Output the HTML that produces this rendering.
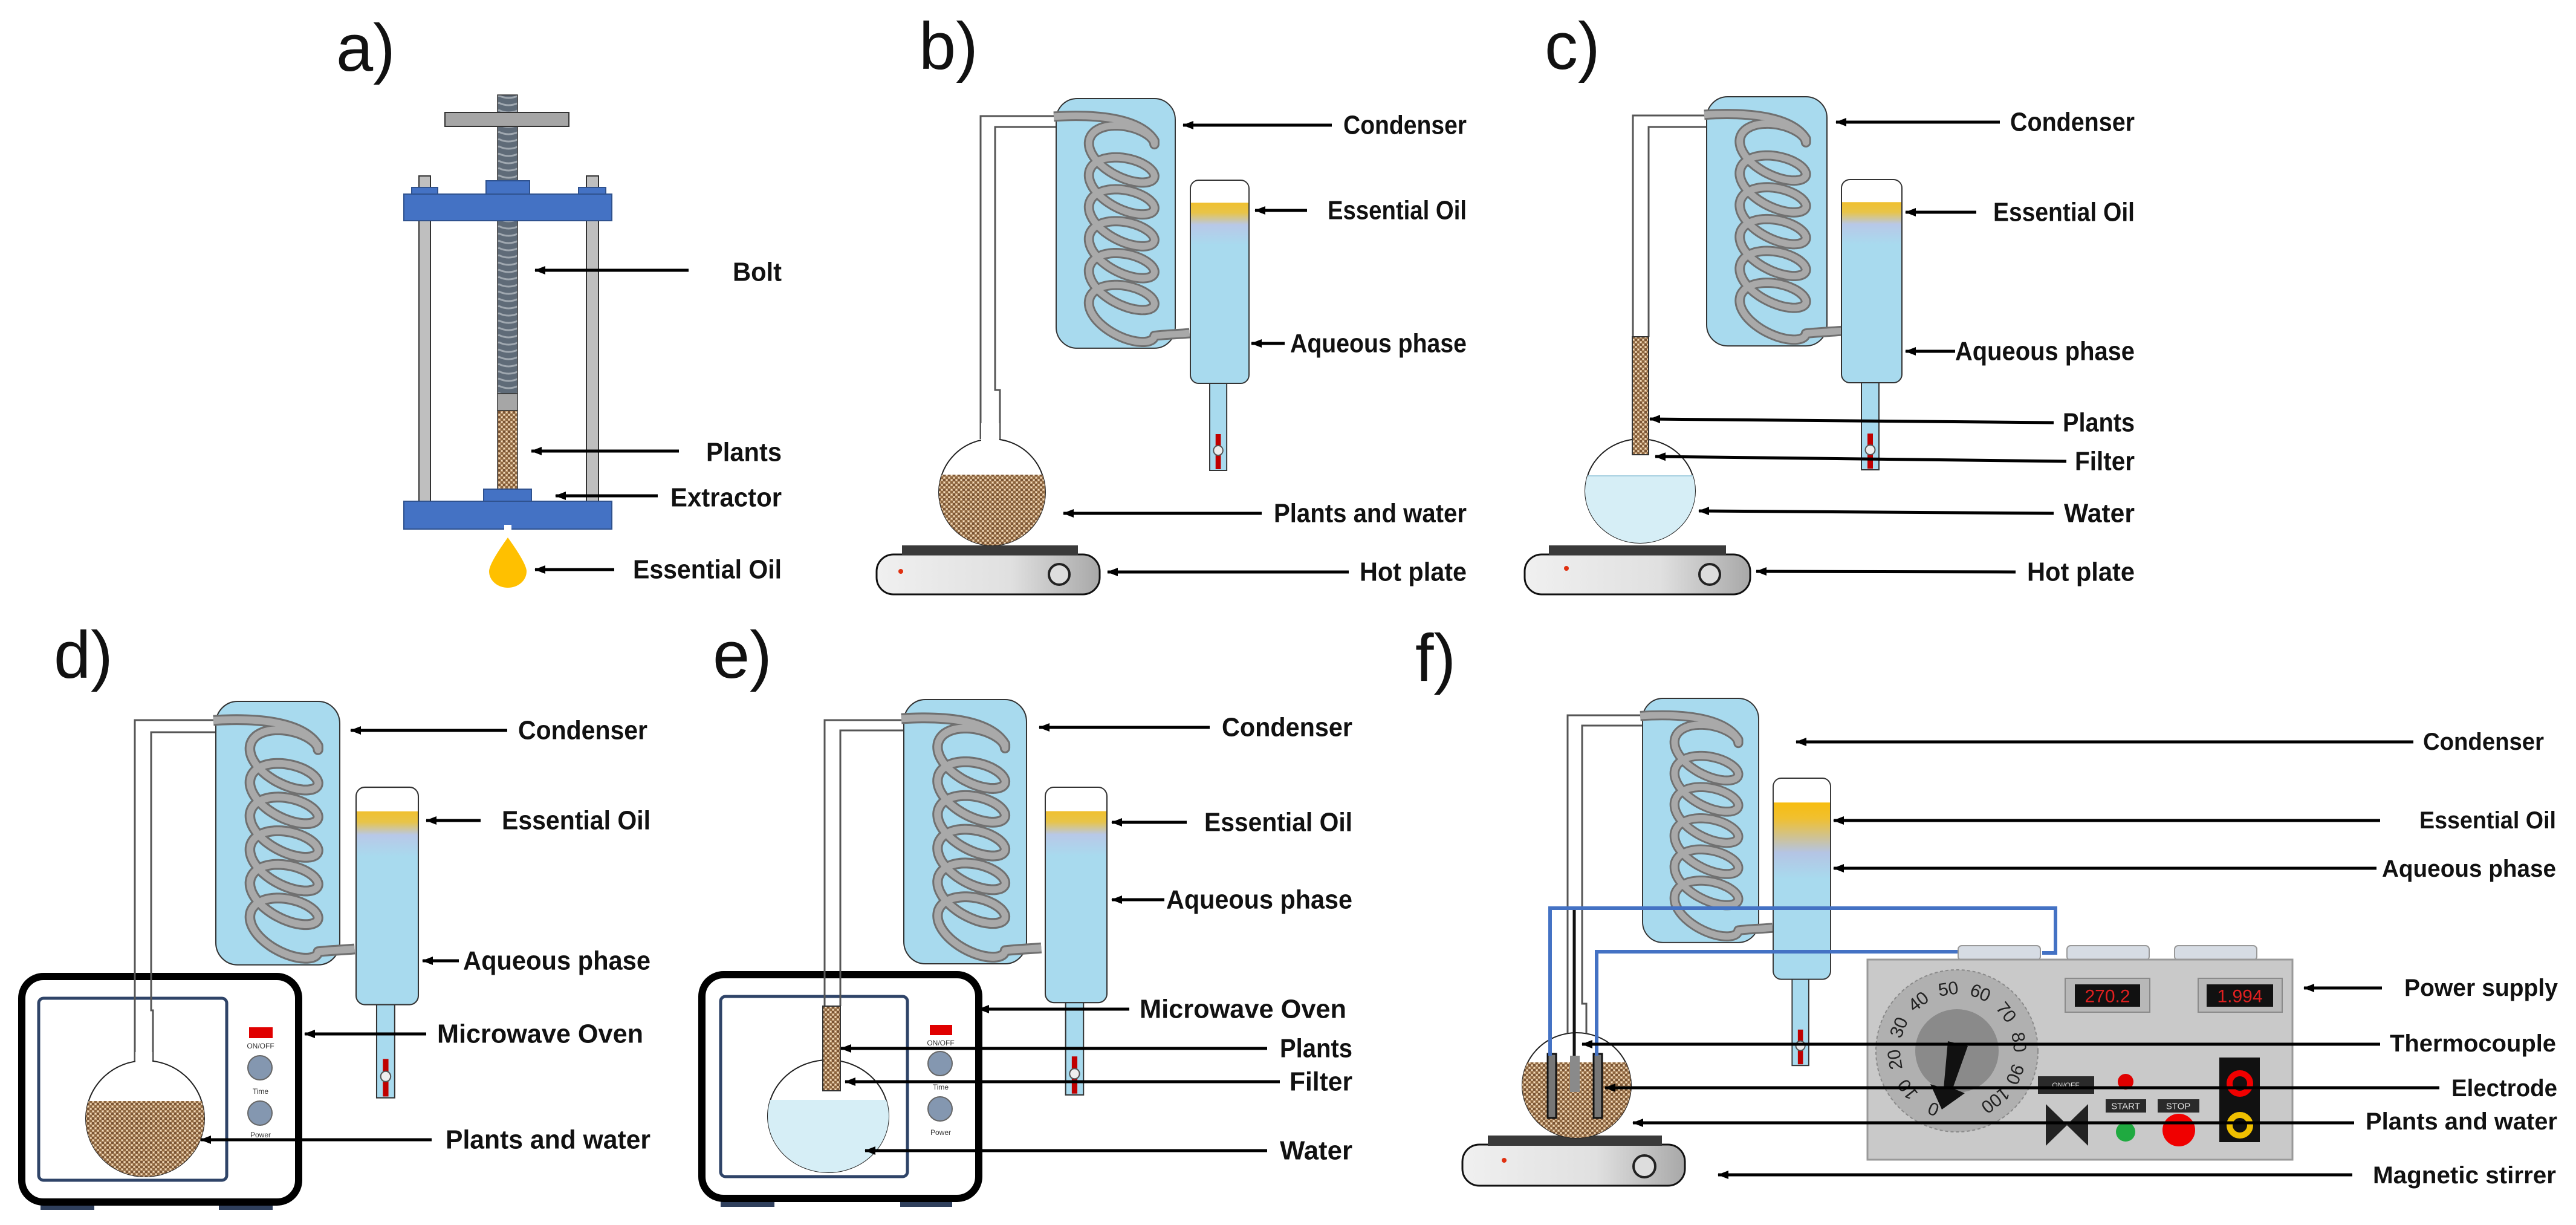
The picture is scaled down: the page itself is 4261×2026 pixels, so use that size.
<!DOCTYPE html>
<html><head><meta charset="utf-8">
<style>
html,body{margin:0;padding:0;background:#fff;}
svg{display:block;}
.lb{font-family:"Liberation Sans",sans-serif;font-weight:bold;font-size:44px;fill:#111;dominant-baseline:central;}
.lf{font-family:"Liberation Sans",sans-serif;font-weight:bold;font-size:40px;fill:#111;dominant-baseline:central;}
.pn{font-family:"Liberation Sans",sans-serif;font-size:110px;fill:#111;}
.ar{stroke:#000;stroke-width:5;fill:none;}
.sm{font-family:"Liberation Sans",sans-serif;font-size:12px;fill:#333;}
</style></head>
<body>
<svg width="4261" height="2026" viewBox="0 0 4261 2026" xmlns="http://www.w3.org/2000/svg">
<defs>
 <marker id="ah" markerUnits="userSpaceOnUse" markerWidth="18" markerHeight="16" refX="1" refY="8" orient="auto">
  <path d="M18,1 L0,8 L18,15 Z" fill="#000"/>
 </marker>
 <pattern id="pl" width="8" height="8" patternUnits="userSpaceOnUse">
  <rect width="8" height="8" fill="#c9a47c"/>
  <rect x="0" y="0" width="4" height="4" fill="#7a5535"/>
  <rect x="4" y="4" width="4" height="4" fill="#8c6640"/>
  <rect x="5" y="1" width="2" height="2" fill="#eedcc0"/>
  <rect x="1" y="5" width="2" height="2" fill="#eedcc0"/>
 </pattern>
 <pattern id="thr" width="33" height="12" patternUnits="userSpaceOnUse">
  <rect width="33" height="12" fill="#5f6b78"/>
  <path d="M0,2 Q16,10 33,2" stroke="#a0a8b0" stroke-width="3" fill="none"/>
 </pattern>
 <linearGradient id="rg" x1="0" y1="0" x2="0" y2="1">
  <stop offset="0" stop-color="#fff"/><stop offset="0.11" stop-color="#fff"/>
  <stop offset="0.112" stop-color="#f0c030"/><stop offset="0.16" stop-color="#e8c448"/>
  <stop offset="0.22" stop-color="#b8c8e8"/><stop offset="0.32" stop-color="#a8daee"/>
  <stop offset="1" stop-color="#a8daee"/>
 </linearGradient>
 <linearGradient id="rgf" x1="0" y1="0" x2="0" y2="1">
  <stop offset="0" stop-color="#fff"/><stop offset="0.12" stop-color="#fff"/>
  <stop offset="0.122" stop-color="#f7bd10"/><stop offset="0.2" stop-color="#f0c030"/>
  <stop offset="0.37" stop-color="#b4c4e4"/><stop offset="0.5" stop-color="#a8daee"/>
  <stop offset="1" stop-color="#a8daee"/>
 </linearGradient>
 <linearGradient id="hp" x1="0" y1="0" x2="1" y2="0">
  <stop offset="0" stop-color="#f0f0f0"/><stop offset="0.6" stop-color="#e0e0e0"/><stop offset="1" stop-color="#a8a8a8"/>
 </linearGradient>
 <g id="rcv">
  <rect x="33" y="330" width="29" height="150" fill="#a8daee" stroke="#333" stroke-width="2"/>
  <rect x="43" y="420" width="9" height="58" fill="#c00000"/>
  <circle cx="47.5" cy="447" r="8" fill="#eee" stroke="#555" stroke-width="2"/>
  <rect x="0" y="0" width="100" height="336" rx="14" fill="url(#rg)" stroke="#333" stroke-width="2"/>
 </g>
 <g id="cond">
  <rect x="0" y="0" width="200" height="415" rx="35" fill="#a8daee" stroke="#333" stroke-width="2"/>
  <path class="coil" d="" fill="none" stroke="#707070" stroke-width="17" stroke-linejoin="round"/>
  <path class="coil" d="" fill="none" stroke="#a9a9a9" stroke-width="11" stroke-linejoin="round"/>
 </g>
 <clipPath id="cb"><ellipse cx="1641" cy="814" rx="88" ry="88"/></clipPath>
 <clipPath id="cc"><ellipse cx="2713" cy="812" rx="91" ry="86"/></clipPath>
 <clipPath id="cd"><ellipse cx="240" cy="1850" rx="98" ry="96"/></clipPath>
 <clipPath id="ce"><ellipse cx="1370" cy="1846" rx="100" ry="93"/></clipPath>
 <clipPath id="cf"><ellipse cx="2608" cy="1795" rx="90" ry="87"/></clipPath>
</defs>

<text class="pn" x="556" y="117">a)</text>
<text class="pn" x="1520" y="114">b)</text>
<text class="pn" x="2555" y="114">c)</text>
<text class="pn" x="89" y="1121">d)</text>
<text class="pn" x="1179" y="1121">e)</text>
<text class="pn" x="2341" y="1126">f)</text>

<!-- a -->
<rect x="823" y="157" width="33" height="494" fill="url(#thr)" stroke="#333" stroke-width="1.5"/>
<rect x="736" y="186" width="205" height="23" fill="#a6a6a6" stroke="#333" stroke-width="2"/>
<rect x="693" y="291" width="19" height="538" fill="#bfbfbf" stroke="#333" stroke-width="2"/>
<rect x="970" y="291" width="20" height="538" fill="#bfbfbf" stroke="#333" stroke-width="2"/>
<rect x="681" y="310" width="43" height="12" fill="#4472c4" stroke="#2f528f" stroke-width="2"/>
<rect x="957" y="310" width="45" height="12" fill="#4472c4" stroke="#2f528f" stroke-width="2"/>
<rect x="804" y="299" width="72" height="23" fill="#4472c4" stroke="#2f528f" stroke-width="2"/>
<rect x="668" y="321" width="344" height="44" fill="#4472c4" stroke="#2f528f" stroke-width="2"/>
<rect x="823" y="651" width="33" height="28" fill="#a6a6a6" stroke="#333" stroke-width="1.5"/>
<rect x="823" y="679" width="33" height="130" fill="url(#pl)" stroke="#333" stroke-width="1.5"/>
<rect x="800" y="809" width="79" height="21" fill="#4472c4" stroke="#2f528f" stroke-width="2"/>
<rect x="668" y="829" width="344" height="46" fill="#4472c4" stroke="#2f528f" stroke-width="2"/>
<rect x="834" y="868" width="12" height="8" fill="#fff"/>
<path d="M840,889 Q809,932 809,945 A31,27 0 0 0 871,945 Q871,932 840,889Z" fill="#ffc000"/>
<path class="ar" d="M885,447 H1139" marker-start="url(#ah)"/>
<path class="ar" d="M879,746 H1123" marker-start="url(#ah)"/>
<path class="ar" d="M919,820 H1088" marker-start="url(#ah)"/>
<path class="ar" d="M885,942 H1016" marker-start="url(#ah)"/>
<text class="lb" x="1212" y="450" textLength="81" lengthAdjust="spacingAndGlyphs">Bolt</text>
<text class="lb" x="1168" y="748" textLength="125" lengthAdjust="spacingAndGlyphs">Plants</text>
<text class="lb" x="1109" y="823" textLength="184" lengthAdjust="spacingAndGlyphs">Extractor</text>
<text class="lb" x="1047" y="942" textLength="246" lengthAdjust="spacingAndGlyphs">Essential Oil</text>

<!-- b -->
<path d="M1747,192 H1622 V726 M1747,210 H1646 V645 H1654 V726" fill="none" stroke="#555" stroke-width="3"/>
<rect x="1450" y="917" width="369" height="66" rx="28" fill="url(#hp)" stroke="#111" stroke-width="3"/>
<rect x="1492" y="902" width="291" height="16" fill="#3a3a3a"/>
<circle cx="1490" cy="945" r="4" fill="#e03010"/>
<circle cx="1752" cy="950" r="17" fill="#ddd" stroke="#222" stroke-width="4"/>
<ellipse cx="1641" cy="814" rx="88" ry="88" fill="#fff" stroke="#222" stroke-width="2"/>
<rect x="1540" y="785" width="200" height="130" fill="url(#pl)" clip-path="url(#cb)"/>
<rect x="1623" y="700" width="30" height="30" fill="#fff"/>
<use href="#cond" transform="translate(1747,163) scale(0.985,0.995)"/>
<use href="#rcv" transform="translate(1969,298) scale(0.97,1)"/>
<path class="ar" d="M1957,207 H2203" marker-start="url(#ah)"/>
<path class="ar" d="M2076,348 H2162" marker-start="url(#ah)"/>
<path class="ar" d="M2070,568 H2125" marker-start="url(#ah)"/>
<path class="ar" d="M1759,849 H2087" marker-start="url(#ah)"/>
<path class="ar" d="M1832,946 H2231" marker-start="url(#ah)"/>
<text class="lb" x="2222" y="207" textLength="204" lengthAdjust="spacingAndGlyphs">Condenser</text>
<text class="lb" x="2196" y="348" textLength="230" lengthAdjust="spacingAndGlyphs">Essential Oil</text>
<text class="lb" x="2134" y="568" textLength="292" lengthAdjust="spacingAndGlyphs">Aqueous phase</text>
<text class="lb" x="2107" y="849" textLength="319" lengthAdjust="spacingAndGlyphs">Plants and water</text>
<text class="lb" x="2249" y="946" textLength="177" lengthAdjust="spacingAndGlyphs">Hot plate</text>

<!-- c -->
<path d="M2823,191 H2701 V557 M2823,210 H2727 V557" fill="none" stroke="#555" stroke-width="3"/>
<rect x="2522" y="917" width="373" height="66" rx="28" fill="url(#hp)" stroke="#111" stroke-width="3"/>
<rect x="2562" y="902" width="293" height="16" fill="#3a3a3a"/>
<circle cx="2591" cy="940" r="4" fill="#e03010"/>
<circle cx="2828" cy="950" r="17" fill="#ddd" stroke="#222" stroke-width="4"/>
<ellipse cx="2713" cy="812" rx="91" ry="86" fill="#fff" stroke="#222" stroke-width="2"/>
<rect x="2610" y="787" width="200" height="120" fill="#d6eef6" clip-path="url(#cc)"/>
<line x1="2622" y1="787" x2="2804" y2="787" stroke="#a8d0e0" stroke-width="2" clip-path="url(#cc)"/>
<rect x="2700" y="557" width="27" height="195" fill="url(#pl)" stroke="#333" stroke-width="2"/>
<use href="#cond" transform="translate(2823,160) scale(0.995,0.993)"/>
<use href="#rcv" transform="translate(3046,297)"/>
<path class="ar" d="M3037,202 H3308" marker-start="url(#ah)"/>
<path class="ar" d="M3152,351 H3269" marker-start="url(#ah)"/>
<path class="ar" d="M3152,581 H3234" marker-start="url(#ah)"/>
<path class="ar" d="M2729,693 L3397,699" marker-start="url(#ah)"/>
<path class="ar" d="M2738,755 L3418,763" marker-start="url(#ah)"/>
<path class="ar" d="M2810,845 L3397,849" marker-start="url(#ah)"/>
<path class="ar" d="M2905,945 L3334,946" marker-start="url(#ah)"/>
<text class="lb" x="3325" y="202" textLength="206" lengthAdjust="spacingAndGlyphs">Condenser</text>
<text class="lb" x="3297" y="351" textLength="234" lengthAdjust="spacingAndGlyphs">Essential Oil</text>
<text class="lb" x="3234" y="581" textLength="297" lengthAdjust="spacingAndGlyphs">Aqueous phase</text>
<text class="lb" x="3412" y="699" textLength="119" lengthAdjust="spacingAndGlyphs">Plants</text>
<text class="lb" x="3432" y="763" textLength="99" lengthAdjust="spacingAndGlyphs">Filter</text>
<text class="lb" x="3414" y="849" textLength="117" lengthAdjust="spacingAndGlyphs">Water</text>
<text class="lb" x="3353" y="946" textLength="178" lengthAdjust="spacingAndGlyphs">Hot plate</text>

<!-- d -->
<rect x="67" y="1985" width="89" height="16" fill="#2f3f5c"/>
<rect x="362" y="1985" width="89" height="16" fill="#2f3f5c"/>
<rect x="36" y="1615" width="458" height="373" rx="36" fill="#fff" stroke="#000" stroke-width="12"/>
<rect x="64" y="1651" width="311" height="301" rx="8" fill="#fff" stroke="#2f4468" stroke-width="5"/>
<path d="M357,1191 H223 V1759 M357,1211 H250 V1671 H253 V1759" fill="none" stroke="#555" stroke-width="3"/>
<ellipse cx="240" cy="1850" rx="98" ry="96" fill="#fff" stroke="#222" stroke-width="2"/>
<rect x="130" y="1821" width="220" height="130" fill="url(#pl)" clip-path="url(#cd)"/>
<rect x="224" y="1740" width="28" height="22" fill="#fff"/>
<rect x="412" y="1699" width="39" height="18" fill="#e00000"/>
<text class="sm" x="431" y="1734" text-anchor="middle">ON/OFF</text>
<circle cx="430" cy="1766" r="20" fill="#8497b0" stroke="#666" stroke-width="2"/>
<text class="sm" x="431" y="1809" text-anchor="middle">Time</text>
<circle cx="430" cy="1841" r="20" fill="#8497b0" stroke="#666" stroke-width="2"/>
<text class="sm" x="431" y="1881" text-anchor="middle">Power</text>
<use href="#cond" transform="translate(357,1160) scale(1.025,1.05)"/>
<use href="#rcv" transform="translate(589,1302) scale(1.03,1.07)"/>
<path class="ar" d="M580,1208 H839" marker-start="url(#ah)"/>
<path class="ar" d="M705,1357 H795" marker-start="url(#ah)"/>
<path class="ar" d="M699,1589 H759" marker-start="url(#ah)"/>
<path class="ar" d="M504,1710 H705" marker-start="url(#ah)"/>
<path class="ar" d="M332,1885 H714" marker-start="url(#ah)"/>
<text class="lb" x="857" y="1208" textLength="214" lengthAdjust="spacingAndGlyphs">Condenser</text>
<text class="lb" x="830" y="1357" textLength="246" lengthAdjust="spacingAndGlyphs">Essential Oil</text>
<text class="lb" x="766" y="1589" textLength="310" lengthAdjust="spacingAndGlyphs">Aqueous phase</text>
<text class="lb" x="723" y="1710" textLength="341" lengthAdjust="spacingAndGlyphs">Microwave Oven</text>
<text class="lb" x="737" y="1885" textLength="339" lengthAdjust="spacingAndGlyphs">Plants and water</text>

<!-- e -->
<rect x="1192" y="1980" width="89" height="16" fill="#2f3f5c"/>
<rect x="1489" y="1980" width="86" height="16" fill="#2f3f5c"/>
<rect x="1161" y="1612" width="458" height="370" rx="36" fill="#fff" stroke="#000" stroke-width="12"/>
<rect x="1192" y="1648" width="309" height="298" rx="8" fill="#fff" stroke="#2f4468" stroke-width="5"/>
<path d="M1495,1191 H1364 V1664 M1495,1208 H1390 V1664" fill="none" stroke="#555" stroke-width="3"/>
<ellipse cx="1370" cy="1846" rx="100" ry="93" fill="#fff" stroke="#222" stroke-width="2"/>
<rect x="1260" y="1819" width="220" height="130" fill="#d6eef6" clip-path="url(#ce)"/>
<rect x="1361" y="1664" width="29" height="140" fill="url(#pl)" stroke="#333" stroke-width="2"/>
<rect x="1538" y="1695" width="37" height="17" fill="#e00000"/>
<text class="sm" x="1556" y="1729" text-anchor="middle">ON/OFF</text>
<circle cx="1555" cy="1759" r="20" fill="#8497b0" stroke="#666" stroke-width="2"/>
<text class="sm" x="1556" y="1802" text-anchor="middle">Time</text>
<circle cx="1555" cy="1834" r="20" fill="#8497b0" stroke="#666" stroke-width="2"/>
<text class="sm" x="1556" y="1877" text-anchor="middle">Power</text>
<use href="#cond" transform="translate(1495,1157) scale(1.015,1.053)"/>
<use href="#rcv" transform="translate(1729,1302) scale(1.02,1.06)"/>
<path class="ar" d="M1719,1203 H2001" marker-start="url(#ah)"/>
<path class="ar" d="M1839,1360 H1963" marker-start="url(#ah)"/>
<path class="ar" d="M1839,1488 H1926" marker-start="url(#ah)"/>
<path class="ar" d="M1619,1669 H1868" marker-start="url(#ah)"/>
<path class="ar" d="M1391,1734 H2096" marker-start="url(#ah)"/>
<path class="ar" d="M1398,1789 H2117" marker-start="url(#ah)"/>
<path class="ar" d="M1431,1903 H2096" marker-start="url(#ah)"/>
<text class="lb" x="2021" y="1203" textLength="216" lengthAdjust="spacingAndGlyphs">Condenser</text>
<text class="lb" x="1992" y="1360" textLength="245" lengthAdjust="spacingAndGlyphs">Essential Oil</text>
<text class="lb" x="1929" y="1488" textLength="308" lengthAdjust="spacingAndGlyphs">Aqueous phase</text>
<text class="lb" x="1885" y="1669" textLength="342" lengthAdjust="spacingAndGlyphs">Microwave Oven</text>
<text class="lb" x="2117" y="1734" textLength="120" lengthAdjust="spacingAndGlyphs">Plants</text>
<text class="lb" x="2133" y="1789" textLength="104" lengthAdjust="spacingAndGlyphs">Filter</text>
<text class="lb" x="2117" y="1903" textLength="120" lengthAdjust="spacingAndGlyphs">Water</text>

<!-- f -->
<path d="M2717,1183 H2593 V1708 M2717,1200 H2617 V1660 H2624 V1708" fill="none" stroke="#555" stroke-width="3"/>
<rect x="2419" y="1893" width="368" height="68" rx="28" fill="url(#hp)" stroke="#111" stroke-width="3"/>
<rect x="2461" y="1878" width="288" height="17" fill="#3a3a3a"/>
<circle cx="2488" cy="1919" r="4" fill="#e03010"/>
<circle cx="2720" cy="1929" r="18" fill="#ddd" stroke="#222" stroke-width="4"/>
<ellipse cx="2608" cy="1795" rx="90" ry="87" fill="#fff" stroke="#222" stroke-width="2"/>
<rect x="2510" y="1757" width="200" height="130" fill="url(#pl)" clip-path="url(#cf)"/>
<rect x="2560" y="1743" width="14" height="106" fill="#777" stroke="#111" stroke-width="3"/>
<rect x="2636" y="1743" width="14" height="106" fill="#777" stroke="#111" stroke-width="3"/>
<line x1="2604" y1="1502" x2="2604" y2="1746" stroke="#111" stroke-width="5"/>
<rect x="2597" y="1746" width="16" height="60" fill="#8a8a8a"/>
<use href="#cond" transform="translate(2717,1155) scale(0.96,0.973)"/>
<g transform="translate(2933,1287) scale(0.95,0.99)">
 <rect x="33" y="330" width="29" height="150" fill="#a8daee" stroke="#333" stroke-width="2"/>
 <rect x="43" y="420" width="9" height="58" fill="#c00000"/>
 <circle cx="47.5" cy="447" r="8" fill="#eee" stroke="#555" stroke-width="2"/>
 <rect x="0" y="0" width="100" height="336" rx="14" fill="url(#rgf)" stroke="#333" stroke-width="2"/>
</g>
<path d="M2564,1746 V1502 H3400 V1576 H3378" fill="none" stroke="#4472c4" stroke-width="6"/>
<path d="M2641,1746 V1574 H3239" fill="none" stroke="#4472c4" stroke-width="6"/>
<rect x="3239" y="1564" width="136" height="24" rx="6" fill="#d6dce4" stroke="#999" stroke-width="2"/>
<rect x="3419" y="1564" width="136" height="24" rx="6" fill="#d6dce4" stroke="#999" stroke-width="2"/>
<rect x="3597" y="1564" width="136" height="24" rx="6" fill="#d6dce4" stroke="#999" stroke-width="2"/>
<rect x="3089" y="1587" width="703" height="331" fill="#c9c9c9" stroke="#999" stroke-width="3"/>
<circle cx="3237" cy="1738" r="134" fill="#b0b0b0" stroke="#8a8a8a" stroke-width="2" stroke-dasharray="5,4"/>
<circle cx="3237" cy="1738" r="69" fill="#8a8a8a"/>
<g font-family="Liberation Sans, sans-serif" font-size="30" fill="#222" text-anchor="middle">
 <text transform="translate(3237,1738) rotate(-158) translate(0,-103)" dominant-baseline="central">0</text>
 <text transform="translate(3237,1738) rotate(-128) translate(0,-103)" dominant-baseline="central">10</text>
 <text transform="translate(3237,1738) rotate(-98) translate(0,-103)" dominant-baseline="central">20</text>
 <text transform="translate(3237,1738) rotate(-68) translate(0,-103)" dominant-baseline="central">30</text>
 <text transform="translate(3237,1738) rotate(-38) translate(0,-103)" dominant-baseline="central">40</text>
 <text transform="translate(3237,1738) rotate(-8) translate(0,-103)" dominant-baseline="central">50</text>
 <text transform="translate(3237,1738) rotate(22) translate(0,-103)" dominant-baseline="central">60</text>
 <text transform="translate(3237,1738) rotate(52) translate(0,-103)" dominant-baseline="central">70</text>
 <text transform="translate(3237,1738) rotate(82) translate(0,-103)" dominant-baseline="central">80</text>
 <text transform="translate(3237,1738) rotate(112) translate(0,-103)" dominant-baseline="central">90</text>
 <text transform="translate(3237,1738) rotate(142) translate(0,-103)" dominant-baseline="central">100</text>
</g>
<polygon points="3255,1730 3222,1722 3215,1800 3193,1793 3212,1835 3250,1808 3230,1800" fill="#111"/>
<rect x="3416" y="1618" width="140" height="56" fill="#b8b8b8" stroke="#8a8a8a" stroke-width="2"/>
<rect x="3432" y="1628" width="108" height="37" fill="#111"/>
<text x="3486" y="1648" font-family="Liberation Sans, sans-serif" font-size="30" fill="#e02020" text-anchor="middle" dominant-baseline="central">270.2</text>
<rect x="3636" y="1618" width="139" height="56" fill="#b8b8b8" stroke="#8a8a8a" stroke-width="2"/>
<rect x="3650" y="1628" width="110" height="37" fill="#111"/>
<text x="3705" y="1648" font-family="Liberation Sans, sans-serif" font-size="30" fill="#e02020" text-anchor="middle" dominant-baseline="central">1.994</text>
<rect x="3371" y="1780" width="93" height="29" fill="#2a2a2a"/>
<text x="3417" y="1795" font-family="Liberation Sans, sans-serif" font-size="12" fill="#ddd" text-anchor="middle" dominant-baseline="central">ON/OFF</text>
<polygon points="3384,1826 3419,1860 3454,1826 3454,1895 3419,1861 3384,1895" fill="#222"/>
<circle cx="3516" cy="1789" r="13" fill="#e00000"/>
<rect x="3483" y="1818" width="67" height="22" fill="#2a2a2a"/>
<text x="3516" y="1830" font-family="Liberation Sans, sans-serif" font-size="15" fill="#ddd" text-anchor="middle" dominant-baseline="central">START</text>
<circle cx="3516" cy="1872" r="16" fill="#1faa40"/>
<rect x="3569" y="1818" width="69" height="22" fill="#2a2a2a"/>
<text x="3603" y="1830" font-family="Liberation Sans, sans-serif" font-size="15" fill="#ddd" text-anchor="middle" dominant-baseline="central">STOP</text>
<circle cx="3604" cy="1869" r="27" fill="#f00000"/>
<rect x="3671" y="1749" width="67" height="140" fill="#111"/>
<circle cx="3705" cy="1792" r="17" fill="none" stroke="#f00000" stroke-width="10"/>
<circle cx="3705" cy="1861" r="17" fill="none" stroke="#f0c000" stroke-width="10"/>
<path class="ar" d="M2971,1227 H3992" marker-start="url(#ah)"/>
<path class="ar" d="M3033,1357 H3937" marker-start="url(#ah)"/>
<path class="ar" d="M3033,1436 H3931" marker-start="url(#ah)"/>
<path class="ar" d="M3811,1634 H3940" marker-start="url(#ah)"/>
<path class="ar" d="M2617,1727 H3937" marker-start="url(#ah)"/>
<path class="ar" d="M2655,1799 H4035" marker-start="url(#ah)"/>
<path class="ar" d="M2701,1857 H3894" marker-start="url(#ah)"/>
<path class="ar" d="M2842,1943 H3891" marker-start="url(#ah)"/>
<text class="lf" x="4008" y="1227" textLength="200" lengthAdjust="spacingAndGlyphs">Condenser</text>
<text class="lf" x="4002" y="1357" textLength="226" lengthAdjust="spacingAndGlyphs">Essential Oil</text>
<text class="lf" x="3940" y="1437" textLength="288" lengthAdjust="spacingAndGlyphs">Aqueous phase</text>
<text class="lf" x="3977" y="1634" textLength="254" lengthAdjust="spacingAndGlyphs">Power supply</text>
<text class="lf" x="3953" y="1726" textLength="275" lengthAdjust="spacingAndGlyphs">Thermocouple</text>
<text class="lf" x="4055" y="1800" textLength="175" lengthAdjust="spacingAndGlyphs">Electrode</text>
<text class="lf" x="3913" y="1855" textLength="317" lengthAdjust="spacingAndGlyphs">Plants and water</text>
<text class="lf" x="3925" y="1944" textLength="303" lengthAdjust="spacingAndGlyphs">Magnetic stirrer</text>
</svg>
<script>
(function(){
 var cx=110,A=55,y0=62,B=30,C=14,loops=6,span=318;
 var k=span/(loops*2*Math.PI);
 var d='M-4,30 C60,26 140,30 165,'+(y0+C-6);
 var T=loops*2*Math.PI;
 for(var t=0;t<=T+0.001;t+=0.08){
  var x=cx+A*Math.cos(t), y=y0+k*t-B*Math.sin(t)+C*Math.cos(t);
  d+=' L'+x.toFixed(1)+','+y.toFixed(1);
 }
 d+=' C185,392 200,392 224,390';
 var ps=document.querySelectorAll('#cond .coil');
 for(var i=0;i<ps.length;i++)ps[i].setAttribute('d',d);
})();
</script>
</body></html>
